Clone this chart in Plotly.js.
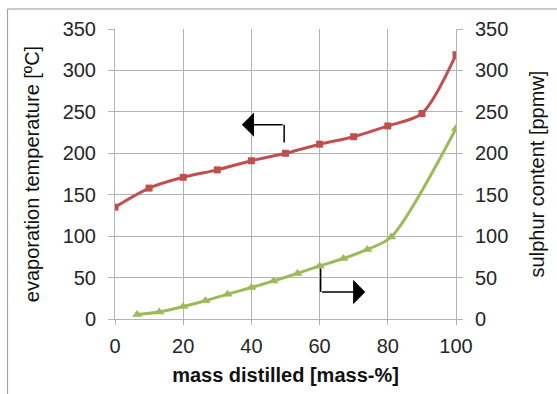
<!DOCTYPE html>
<html><head><meta charset="utf-8">
<script src="https://cdn.plot.ly/plotly-3.0.1.min.js"></script>
<style>html,body{margin:0;padding:0;background:#fff;}#chart{width:557px;height:394px;}</style>
</head><body><div id="chart"></div>
<script>
const massTemp = [0,10,20,30,40,50,60,70,80,90,100];
const evapTemp = [135,158,171,180,191,200,211,220,233,248,319];
const massSulphur = [6.5,13,20,26.5,33,40,46.5,53.5,60,67,74,81,100];
const sulphur = [5.5,8.5,15,22,30,38,46,55,64,73,84,99,230];
const xTicks = [0,20,40,60,80,100];
const yTicks = [0,50,100,150,200,250,300,350];
// arrow guides: [stubX, stubYStart, stubYEnd, tipX]
const arrowLeft = [49.6, 213, 234.5, 37.2];
const arrowRight = [60.3, 61, 32.6, 73.4];

const red = '#C0504D', green = '#9BBB59', grid = '#b3b3b3';
const tickFont = {family:'Liberation Sans, Arial', size:20, color:'#262626'};
const titleFont = {family:'Liberation Sans, Arial', size:20, color:'#111'};

const traces = [
 {x:massTemp, y:evapTemp, mode:'lines+markers', line:{color:red,width:3,shape:'spline',smoothing:0.8},
  marker:{symbol:'square',size:7,color:red}, yaxis:'y', xaxis:'x'},
 {x:massSulphur, y:sulphur, mode:'lines+markers', line:{color:green,width:3,shape:'spline',smoothing:0.8},
  marker:{symbol:'triangle-up',size:9,color:green}, yaxis:'y2', xaxis:'x'}
];
const axBase = {range:[0,350], tickvals:yTicks, showgrid:true, gridcolor:grid, gridwidth:1,
  showline:true, linecolor:grid, ticks:'outside', ticklen:6, tickcolor:grid, tickfont:tickFont, zeroline:false, fixedrange:true,
  ticklabelstandoff:8};
const layout = {
 width:557, height:394, margin:{l:115,r:101,t:29,b:75}, paper_bgcolor:'#fff', plot_bgcolor:'#fff', showlegend:false,
 xaxis:{range:[0,100], tickvals:xTicks, showgrid:true, gridcolor:grid, showline:true, linecolor:grid, ticks:'outside', ticklen:5,
  tickcolor:grid, tickfont:tickFont, zeroline:false, mirror:false, ticklabelstandoff:4,
  title:{text:'<b>mass distilled [mass-%]</b>', font:titleFont, standoff:11}},
 yaxis:Object.assign({}, axBase, {title:{text:'evaporation temperature [ºC]', font:titleFont, standoff:17}}),
 yaxis2:Object.assign({}, axBase, {overlaying:'y', side:'right', showgrid:false, title:{text:'sulphur content [ppmw]', font:titleFont, standoff:22}}),
 shapes:[
  {type:'line', xref:'x', yref:'y', x0:arrowLeft[0], x1:arrowLeft[0], y0:arrowLeft[1], y1:arrowLeft[2], line:{color:'#000',width:1.5}},
  {type:'line', xref:'x', yref:'y', x0:arrowRight[0], x1:arrowRight[0], y0:arrowRight[1], y1:arrowRight[2], line:{color:'#000',width:1.5}},
  {type:'line', xref:'paper', yref:'paper', x0:-0.315, x1:1.35, y0:1.069, y1:1.069, line:{color:'#999',width:1}},
  {type:'line', xref:'paper', yref:'paper', x0:-0.315, x1:-0.315, y0:1.069, y1:-0.3, line:{color:'#999',width:1}}
 ],
 annotations:[
  {xref:'x', yref:'y', axref:'x', ayref:'y', x:arrowLeft[3], y:arrowLeft[2], ax:arrowLeft[0], ay:arrowLeft[2], text:'', showarrow:true,
   arrowhead:1, arrowsize:2.7, arrowwidth:1.5, arrowcolor:'#000'},
  {xref:'x', yref:'y', axref:'x', ayref:'y', x:arrowRight[3], y:arrowRight[2], ax:arrowRight[0], ay:arrowRight[2], text:'', showarrow:true,
   arrowhead:1, arrowsize:2.7, arrowwidth:1.5, arrowcolor:'#000'}
 ]
};
Plotly.newPlot('chart', traces, layout, {staticPlot:true, displayModeBar:false});
</script></body></html>
